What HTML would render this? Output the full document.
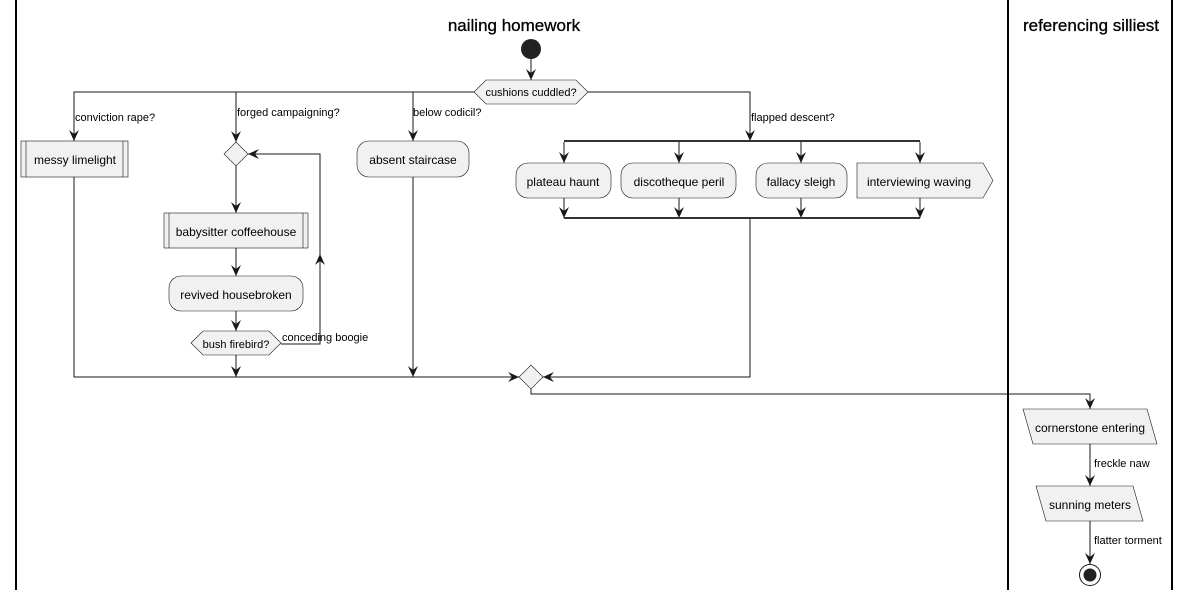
<!DOCTYPE html>
<html><head><meta charset="utf-8"><style>
html,body{margin:0;padding:0;background:#fff;}
svg{display:block;font-family:"Liberation Sans",Arial,sans-serif;}
</style></head><body>
<svg width="1190" height="597" viewBox="0 0 1190 597" xmlns="http://www.w3.org/2000/svg">
<defs>
<marker id="a" viewBox="0 0 12 12" refX="11" refY="6" markerWidth="12" markerHeight="12" markerUnits="userSpaceOnUse" orient="auto">
<path d="M0,1 L11,6 L0,11 L4,6 Z" fill="#181818"/>
</marker>
</defs>
<g stroke="#000" stroke-width="2">
<line x1="16" y1="0" x2="16" y2="590"/>
<line x1="1008" y1="0" x2="1008" y2="590"/>
<line x1="1172" y1="0" x2="1172" y2="590"/>
</g>
<text x="514" y="31" font-size="17" text-anchor="middle" stroke="#000" stroke-width="0.3">nailing homework</text>
<text x="1091" y="31" font-size="17" text-anchor="middle" stroke="#000" stroke-width="0.3">referencing silliest</text>

<g fill="none" stroke="#181818" stroke-width="1">
<line x1="531" y1="59" x2="531" y2="80" marker-end="url(#a)"/>
<polyline points="474,92 74,92 74,141" marker-end="url(#a)"/>
<line x1="236" y1="92" x2="236" y2="142" marker-end="url(#a)"/>
<line x1="413" y1="92" x2="413" y2="141" marker-end="url(#a)"/>
<polyline points="588,92 750,92 750,141" marker-end="url(#a)"/>
<line x1="236" y1="166" x2="236" y2="213" marker-end="url(#a)"/>
<line x1="236" y1="248" x2="236" y2="276" marker-end="url(#a)"/>
<line x1="236" y1="311" x2="236" y2="331" marker-end="url(#a)"/>
<polyline points="281,344 320,344 320,154 248,154" marker-end="url(#a)"/>
<line x1="320" y1="270" x2="320" y2="254" marker-end="url(#a)"/>
<line x1="236" y1="355" x2="236" y2="377" marker-end="url(#a)"/>
<polyline points="74,177 74,377 519,377" marker-end="url(#a)"/>
<line x1="413" y1="177" x2="413" y2="377" marker-end="url(#a)"/>
<line x1="564" y1="142" x2="564" y2="163" marker-end="url(#a)"/>
<line x1="679" y1="142" x2="679" y2="163" marker-end="url(#a)"/>
<line x1="801" y1="142" x2="801" y2="163" marker-end="url(#a)"/>
<line x1="920" y1="142" x2="920" y2="163" marker-end="url(#a)"/>
<line x1="564" y1="198" x2="564" y2="218" marker-end="url(#a)"/>
<line x1="679" y1="198" x2="679" y2="218" marker-end="url(#a)"/>
<line x1="801" y1="198" x2="801" y2="218" marker-end="url(#a)"/>
<line x1="920" y1="198" x2="920" y2="218" marker-end="url(#a)"/>
<polyline points="750,219 750,377 543,377" marker-end="url(#a)"/>
<polyline points="531,389 531,394 1090,394 1090,409" marker-end="url(#a)"/>
<line x1="1090" y1="444" x2="1090" y2="486" marker-end="url(#a)"/>
<line x1="1090" y1="521" x2="1090" y2="564" marker-end="url(#a)"/>
</g>
<g stroke="#333" stroke-width="2">
<line x1="564" y1="141" x2="920" y2="141"/>
<line x1="564" y1="218" x2="920" y2="218"/>
</g>

<circle cx="531" cy="49" r="10" fill="#222"/>
<g fill="#f1f1f1" stroke="#181818" stroke-width="0.6">
<polygon points="474,92 486,80 576,80 588,92 576,104 486,104"/>
<rect x="21" y="141" width="107" height="36"/>
<line x1="26" y1="141" x2="26" y2="177"/><line x1="123" y1="141" x2="123" y2="177"/>
<polygon points="236,142 248,154 236,166 224,154"/>
<rect x="164" y="213" width="144" height="35"/>
<line x1="169" y1="213" x2="169" y2="248"/><line x1="303" y1="213" x2="303" y2="248"/>
<rect x="169" y="276" width="134" height="35" rx="12"/>
<polygon points="191,343 203,331 269,331 281,343 269,355 203,355"/>
<rect x="357" y="141" width="112" height="36" rx="12"/>
<rect x="516" y="163" width="95" height="35" rx="12"/>
<rect x="621" y="163" width="115" height="35" rx="12"/>
<rect x="756" y="163" width="91" height="35" rx="12"/>
<polygon points="857,163 983,163 993,180.5 983,198 857,198"/>
<polygon points="531,365 543,377 531,389 519,377"/>
<polygon points="1023,409 1147,409 1157,444 1033,444"/>
<polygon points="1036,486 1133,486 1143,521 1046,521"/>
</g>
<circle cx="1090" cy="575" r="10.5" fill="none" stroke="#181818" stroke-width="1"/>
<circle cx="1090" cy="575" r="6.5" fill="#222"/>

<g font-size="12" fill="#000" text-anchor="middle">
<text x="75" y="164">messy limelight</text>
<text x="236" y="236">babysitter coffeehouse</text>
<text x="236" y="299">revived housebroken</text>
<text x="413" y="164">absent staircase</text>
<text x="563" y="186">plateau haunt</text>
<text x="679" y="186">discotheque peril</text>
<text x="801" y="186">fallacy sleigh</text>
<text x="919" y="186">interviewing waving</text>
<text x="1090" y="432">cornerstone entering</text>
<text x="1090" y="509">sunning meters</text>
</g>
<g font-size="11" fill="#000">
<text x="531" y="96" text-anchor="middle">cushions cuddled?</text>
<text x="236" y="348" text-anchor="middle">bush firebird?</text>
<text x="75" y="121">conviction rape?</text>
<text x="237" y="116">forged campaigning?</text>
<text x="413" y="116">below codicil?</text>
<text x="751" y="121">flapped descent?</text>
<text x="282" y="341">conceding boogie</text>
<text x="1094" y="467">freckle naw</text>
<text x="1094" y="544">flatter torment</text>
</g>
</svg>
</body></html>
